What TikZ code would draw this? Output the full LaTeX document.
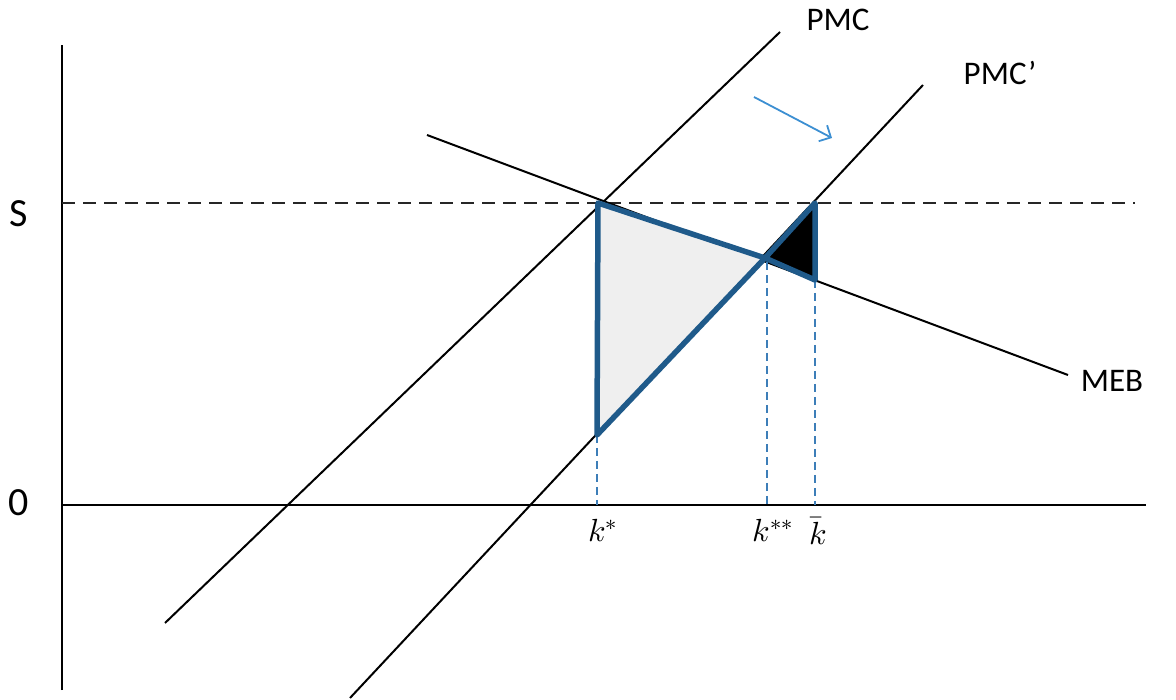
\documentclass[tikz,border=0pt]{standalone}
\usepackage{fontspec}
\setmainfont{Carlito}
\usepackage{unicode-math}
\setmathfont{Latin Modern Math}
\usetikzlibrary{arrows.meta}
\definecolor{tricol}{HTML}{1F5A8A}
\definecolor{guidecol}{HTML}{3D7EB8}
\definecolor{arrcol}{HTML}{3C8FD2}
\definecolor{fillg}{HTML}{EFEFEF}
\begin{document}
\begin{tikzpicture}[x=1pt,y=-1pt,
  curve/.style={black,line width=2pt},
  axis/.style={black,line width=2.2pt},
  guide/.style={guidecol,line width=1.8pt,dash pattern=on 8pt off 5pt},
  tribox/.style={tricol,line width=5.5pt,line join=round},
  lbl/.style={font=\fontsize{33}{36}\selectfont,inner sep=0pt},
  ax/.style={font=\fontsize{40}{44}\selectfont,inner sep=0pt},
  klbl/.style={font=\fontsize{32}{34}\selectfont,inner sep=0pt}]
\useasboundingbox (0,0) rectangle (1176,700);
% axes
\coordinate (yb) at (62,690); \coordinate (yt) at (62,45);
\coordinate (xl) at (62,505); \coordinate (xr) at (1146,505);
\draw[axis] (yb) -- (yt);
\draw[axis] (xl) -- (xr);
% dashed S line
\coordinate (sl) at (62,203); \coordinate (sr) at (1135,203);
\draw[black!85,line width=2pt,dash pattern=on 13pt off 8pt] (sl) -- (sr);
% curves
\coordinate (p1) at (165,623); \coordinate (p2) at (780,32);
\coordinate (q1) at (350,698); \coordinate (q2) at (923,85);
\coordinate (m1) at (427,135); \coordinate (m2) at (1068,375);
\draw[curve] (p1) -- (p2);
\draw[curve] (q1) -- (q2);
\draw[curve] (m1) -- (m2);
% key points
\coordinate (A) at (598,203);
\coordinate (B) at (765,258);
\coordinate (C) at (597,435);
\coordinate (D) at (815,203);
\coordinate (E) at (815,280);
% guides
\coordinate (Cb) at (597,505); \coordinate (Bb) at (767,505); \coordinate (Eb) at (815,505);
\coordinate (Bt) at (767,262);
\draw[guide] (C) -- (Cb);
\draw[guide] (Bt) -- (Bb);
\draw[guide] (E) -- (Eb);
% triangles
\filldraw[tribox,fill=fillg] (A) -- (B) -- (C) -- cycle;
\filldraw[tribox,fill=black] (B) -- (D) -- (E) -- cycle;
% arrow
\coordinate (ar1) at (754,97); \coordinate (ar2) at (832,138);
\draw[arrcol,line width=1.8pt,-{Straight Barb[length=9pt,width=18pt]}] (ar1) -- (ar2);
% labels
\node[lbl] (lpmc) at (838,20) {PMC};
\node[lbl] (lpmcp) at (1000,73) {PMC’};
\node[lbl] (lmeb) at (1112,381) {MEB};
\node[ax] (ls) at (19,214) {S};
\node[ax] (l0) at (19,503) {0};
\node[klbl] (k1) at (603,531) {$k^{*}$};
\node[klbl] (k2) at (773,531) {$k^{**}$};
\node[klbl] (k3) at (818,531) {$\bar{k}$};
\end{tikzpicture}
\end{document}
